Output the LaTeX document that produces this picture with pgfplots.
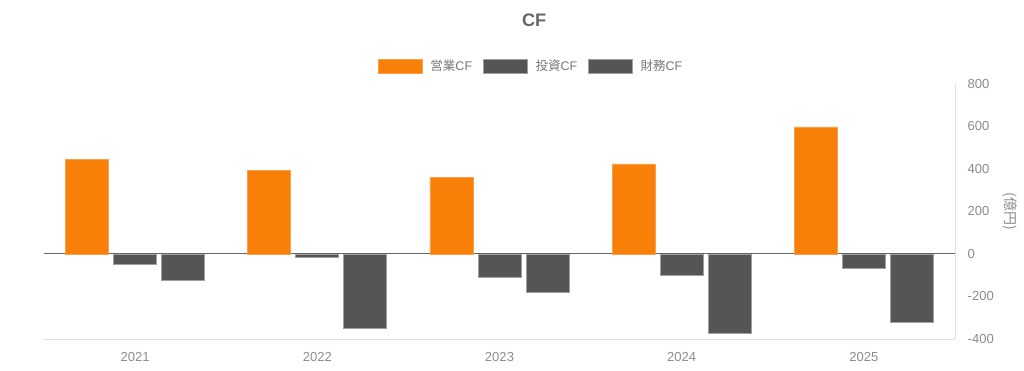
\documentclass[border=0pt]{standalone}
\usepackage{pgfplots}
\pgfplotsset{compat=1.18}
\usepackage{fontspec}
\setmainfont{Liberation Sans}
\newfontfamily\cjk{Noto Sans CJK JP}
\definecolor{cfor}{HTML}{F98008}
\definecolor{cforb}{HTML}{FBA04A}
\definecolor{cfgr}{HTML}{555555}
\definecolor{cfgrb}{HTML}{A0A0A0}
\definecolor{txtg}{HTML}{666666}
\definecolor{lgdg}{HTML}{777777}
\definecolor{tickg}{HTML}{8C8C8C}
\definecolor{axg}{HTML}{E0E0E0}
\begin{document}
\begin{tikzpicture}[x=0.75pt,y=0.75pt]
\useasboundingbox (-44,-32) rectangle (980,339);
\begin{axis}[
  at={(0pt,0pt)}, anchor=south west,
  scale only axis, width=683.25pt, height=191.25pt,
  xmin=-0.5, xmax=4.5, ymin=-400, ymax=800,
  xtick={0,1,2,3,4}, xticklabels={2021,2022,2023,2024,2025},
  ytick={-400,-200,0,200,400,600,800},
  axis x line*=bottom, axis y line*=right,
  axis line style={draw=axg, line width=0.75pt, -},
  major tick length=0pt,
  /pgf/number format/assume math mode=true,
  tick label style={font=\fontsize{9.8}{11}\selectfont},
  xticklabel style={text=tickg, yshift=-6.5pt},
  yticklabel style={text=tickg, anchor=west, xshift=6pt},
  ylabel={\cjk (億円)},
  ylabel style={at={(axis description cs:1.0604,0.5)}, anchor=center, rotate=180, font=\fontsize{10.5}{12}\selectfont, text=tickg},
  title={\bfseries CF},
  title style={at={(axis description cs:0.538,1.251)}, anchor=center, yshift=-6pt, font=\fontsize{13.6}{15}\selectfont, text=txtg},
  extra y ticks={0}, extra y tick labels={},
  extra y tick style={ymajorgrids=true, major grid style={draw=txtg, line width=0.75pt}},
  legend style={at={(axis description cs:0.535,1.0706)}, anchor=center, draw=none, fill=none,
    legend columns=3, font=\fontsize{9.4}{11}\selectfont, text=lgdg,
    /tikz/every odd column/.append style={column sep=4pt},
    /tikz/every even column/.append style={column sep=6pt}},
  legend image code/.code={\fill[#1] (0pt,-5.25pt) rectangle (33pt,5.25pt);},
  legend cell align=left,
]
\addplot[ybar, bar width=32.25pt, bar shift=-36pt, fill=cfor, draw=cforb, line width=0.5pt]
  coordinates {(0,447) (1,395) (2,362) (3,424) (4,598)};
\addlegendentry{{\cjk 営業}CF}
\addplot[ybar, bar width=32.25pt, bar shift=0pt, fill=cfgr, draw=cfgrb, line width=0.5pt]
  coordinates {(0,-47) (1,-14) (2,-108) (3,-99) (4,-66)};
\addlegendentry{{\cjk 投資}CF}
\addplot[ybar, bar width=32.25pt, bar shift=36pt, fill=cfgr, draw=cfgrb, line width=0.5pt]
  coordinates {(0,-122) (1,-348) (2,-179) (3,-372) (4,-320)};
\addlegendentry{{\cjk 財務}CF}
\end{axis}
\end{tikzpicture}
\end{document}
